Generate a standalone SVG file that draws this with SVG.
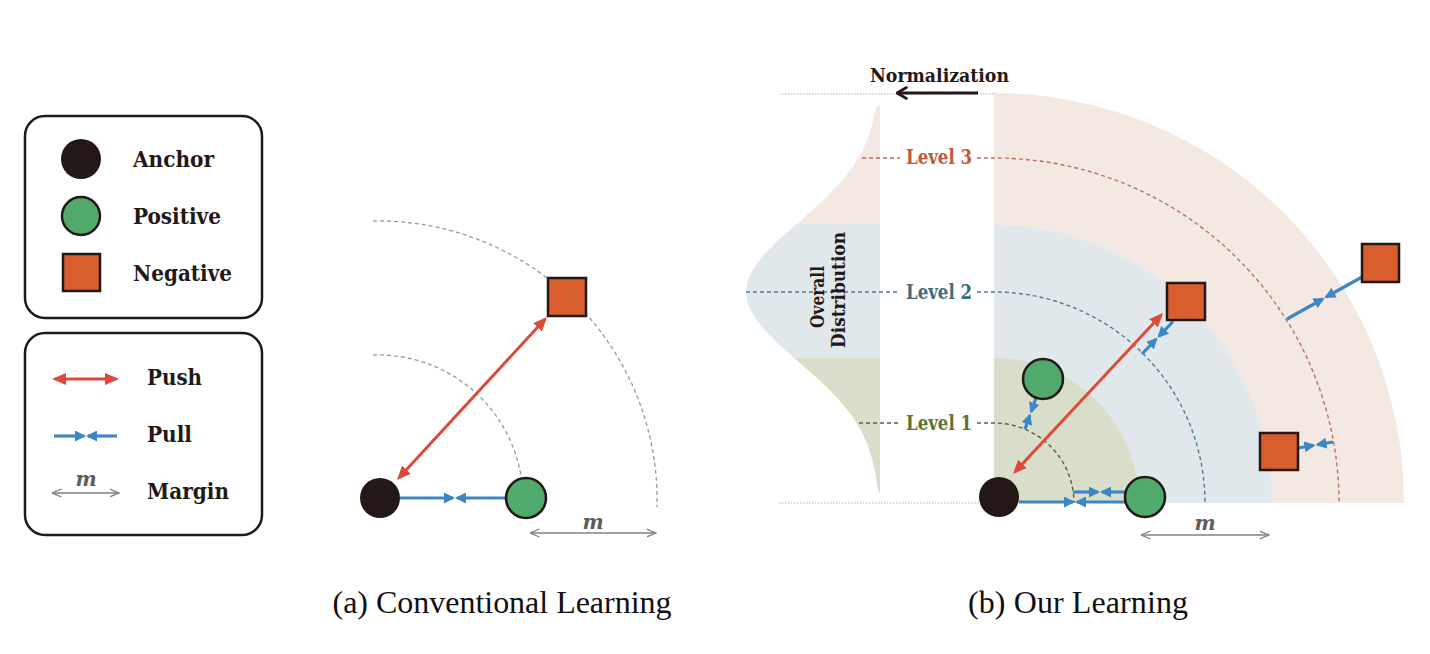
<svg xmlns="http://www.w3.org/2000/svg" width="1430" height="654" viewBox="0 0 1430 654">
<style>
.lbl{font-family:"DejaVu Serif Condensed","DejaVu Serif",serif;font-weight:bold;font-stretch:condensed;fill:#231815}
.cap{font-family:"Liberation Serif","Times New Roman",serif;font-size:32px;fill:#111}
.m{font-family:"DejaVu Serif",serif;font-style:italic;font-weight:bold;fill:#5e5e5e;text-anchor:middle;font-size:20px}
.anchor{fill:#231815}
.pos{fill:#4faa6b;stroke:#231815;stroke-width:2.5}
.neg{fill:#d95e2e;stroke:#231815;stroke-width:2.5}
.push{stroke:#db4a3a;stroke-width:3;fill:none;marker-start:url(#mPush);marker-end:url(#mPush)}
.pull{stroke:#3d88c4;stroke-width:3.2;fill:none;marker-end:url(#mPull)}
.margin{stroke:#808080;stroke-width:1.5;fill:none;marker-start:url(#mMar);marker-end:url(#mMar)}
.guide{fill:none;stroke:#9a9a9a;stroke-width:1.3;stroke-dasharray:4 3}
.box{fill:#fff;stroke:#231815;stroke-width:2.5}
.dot{stroke:#b5b5b5;stroke-width:1;stroke-dasharray:1.5 1.5}
.l3{fill:none;stroke:#b8735f;stroke-width:1.4;stroke-dasharray:4 3}
.l2{fill:none;stroke:#4e7c95;stroke-width:1.4;stroke-dasharray:4 3}
.l1{fill:none;stroke:#59603f;stroke-width:1.4;stroke-dasharray:4 3}
</style>
<defs>
<marker id="mPush" viewBox="0 0 14 12" refX="11" refY="6" markerWidth="14" markerHeight="12" markerUnits="userSpaceOnUse" orient="auto-start-reverse"><path d="M0,0 L14,6 L0,12 z" fill="#db4a3a"/></marker>
<marker id="mPull" viewBox="0 0 11 11" refX="9" refY="5.5" markerWidth="11" markerHeight="11" markerUnits="userSpaceOnUse" orient="auto"><path d="M0,0 L11,5.5 L0,11 z" fill="#3d88c4"/></marker>
<marker id="mMar" viewBox="0 0 10 10" refX="9.5" refY="5" markerWidth="10" markerHeight="10" markerUnits="userSpaceOnUse" orient="auto-start-reverse"><path d="M0,1 L9.5,5 L0,9" fill="none" stroke="#808080" stroke-width="1.3"/></marker>
<marker id="mNorm" viewBox="0 0 12 14" refX="10.5" refY="7" markerWidth="12" markerHeight="14" markerUnits="userSpaceOnUse" orient="auto"><path d="M1,1.5 L10.5,7 L1,12.5" fill="none" stroke="#231815" stroke-width="2.6" stroke-linecap="round" stroke-linejoin="round"/></marker>
<clipPath id="bell"><path d="M880,104 L876,107 L873,122 L868.5,137 L861.9,152 L852.8,167 L841,182 L826.7,197 L810.3,212 L792.9,227 L776.1,242 L761.8,257 L751.4,272 L747.3,282 L746,292 L747.3,302 L751.4,312 L761.8,327 L776.1,342 L792.9,357 L810.3,372 L826.7,387 L841,402 L852.8,417 L861.9,432 L868.5,447 L873,462 L875.9,477 L878,490 L880,493 Z"/></clipPath>
</defs>
<rect width="1430" height="654" fill="#fff"/>

<!-- Legend -->
<g id="legend-nodes">
<rect class="box" x="25" y="116" width="237" height="202" rx="20"/>
<g id="legend-anchor"><circle class="anchor" cx="81" cy="159" r="20"/><text class="lbl" x="133" y="167" font-size="23" textLength="81" lengthAdjust="spacingAndGlyphs">Anchor</text></g>
<g id="legend-positive"><circle class="pos" cx="81" cy="216" r="19"/><text class="lbl" x="133" y="224" font-size="23" textLength="88" lengthAdjust="spacingAndGlyphs">Positive</text></g>
<g id="legend-negative"><rect class="neg" x="63" y="254" width="37" height="37"/><text class="lbl" x="133" y="281" font-size="23" textLength="99" lengthAdjust="spacingAndGlyphs">Negative</text></g>
</g>
<g id="legend-edges">
<rect class="box" x="25" y="333" width="237" height="202" rx="20"/>
<g id="legend-push"><line class="push" x1="55" y1="379" x2="116" y2="379"/><text class="lbl" x="147" y="385" font-size="23" textLength="55" lengthAdjust="spacingAndGlyphs">Push</text></g>
<g id="legend-pull"><line class="pull" x1="54" y1="436" x2="84" y2="436"/><line class="pull" x1="117" y1="436" x2="88" y2="436"/><text class="lbl" x="147" y="442" font-size="23" textLength="45" lengthAdjust="spacingAndGlyphs">Pull</text></g>
<g id="legend-margin"><line class="margin" x1="52" y1="493" x2="119" y2="493"/><text class="m" x="86" y="486" font-size="19">m</text><text class="lbl" x="147" y="499" font-size="23" textLength="82" lengthAdjust="spacingAndGlyphs">Margin</text></g>
</g>

<!-- Panel (a) guides -->
<g id="a-guides">
<path class="guide" d="M373,355 A145,145 0 0 1 523,500"/>
<path class="guide" d="M373,221 A279,279 0 0 1 657,507"/>
</g>

<!-- Panel (b) background -->
<g id="b-background">
<path d="M994,503 L994,93 A410,410 0 0 1 1404,503 Z" fill="#f4e8e2"/>
<path d="M994,503 L994,225 A278,278 0 0 1 1272,503 Z" fill="#e1e8ec"/>
<path d="M994,503 L994,358 A145,145 0 0 1 1139,503 Z" fill="#d9decb"/>
<g clip-path="url(#bell)">
<rect x="740" y="90" width="141" height="134" fill="#f4e8e2"/>
<rect x="740" y="224" width="141" height="134" fill="#e1e8ec"/>
<rect x="740" y="358" width="141" height="140" fill="#d9decb"/>
</g>
<line class="dot" x1="779" y1="94" x2="994" y2="94"/>
<line class="dot" x1="779" y1="503" x2="994" y2="503"/>
</g>

<g id="b-levels">
<path class="l3" d="M862,158 L900,158"/>
<path class="l3" d="M977,158 L994,158 A345,345 0 0 1 1339,503"/>
<path class="l2" d="M746,292 L900,292"/>
<path class="l2" d="M977,292 L994,292 A211,211 0 0 1 1205,503"/>
<path class="l1" d="M859,423 L900,423"/>
<path class="l1" d="M977,423 L994,423 A80,80 0 0 1 1074,503"/>
<text class="lbl" x="906" y="164" font-size="20" style="fill:#c0583e" textLength="66" lengthAdjust="spacingAndGlyphs">Level 3</text>
<text class="lbl" x="906" y="298.5" font-size="20" style="fill:#3f6b80" textLength="66" lengthAdjust="spacingAndGlyphs">Level 2</text>
<text class="lbl" x="906" y="430" font-size="20" style="fill:#5f7232" textLength="66" lengthAdjust="spacingAndGlyphs">Level 1</text>
<text class="lbl" font-size="18" text-anchor="middle" transform="translate(824,297) rotate(-90)" textLength="62" lengthAdjust="spacingAndGlyphs">Overall</text>
<text class="lbl" font-size="18" text-anchor="middle" transform="translate(845,290) rotate(-90)" textLength="116" lengthAdjust="spacingAndGlyphs">Distribution</text>
</g>

<g id="b-normalization">
<line x1="978" y1="93" x2="897" y2="93" stroke="#231815" stroke-width="3" marker-end="url(#mNorm)"/>
<text class="lbl" x="870" y="82" font-size="19" textLength="139" lengthAdjust="spacingAndGlyphs">Normalization</text>
</g>

<!-- Connectors -->
<g id="connectors">
<line class="push" x1="399" y1="477.8" x2="545" y2="319.2"/>
<line class="pull" x1="400" y1="498" x2="453" y2="498"/>
<line class="pull" x1="506" y1="498" x2="457" y2="498"/>
<line class="margin" x1="530" y1="533" x2="656" y2="533"/>

<line class="push" x1="1015" y1="471.8" x2="1161" y2="315.2"/>
<line class="pull" x1="1019" y1="502" x2="1073" y2="502"/>
<line class="pull" x1="1125" y1="502" x2="1077" y2="502"/>
<line class="pull" x1="1073" y1="492" x2="1098" y2="492"/>
<line class="pull" x1="1126" y1="492" x2="1102" y2="492"/>
<line class="pull" x1="1025" y1="429" x2="1029.8" y2="415.4"/>
<line class="pull" x1="1036" y1="398" x2="1031.2" y2="411.6"/>
<line class="pull" x1="1142" y1="354" x2="1156.1" y2="339.2"/>
<line class="pull" x1="1173" y1="321.5" x2="1158.9" y2="336.4"/>
<line class="pull" x1="1287" y1="319" x2="1322.8" y2="299"/>
<line class="pull" x1="1362" y1="277" x2="1326.2" y2="297"/>
<line class="pull" x1="1333" y1="442" x2="1317.5" y2="444.7"/>
<line class="pull" x1="1298" y1="448" x2="1313.5" y2="445.3"/>
<line class="margin" x1="1141" y1="535" x2="1269" y2="535"/>
</g>
<text class="m" x="593" y="529">m</text>
<text class="m" x="1205" y="530">m</text>

<!-- Panel (a) nodes -->
<g id="a-anchor"><circle class="anchor" cx="380" cy="498" r="20"/></g>
<g id="a-positive"><circle class="pos" cx="526" cy="498" r="20"/></g>
<g id="a-negative"><rect class="neg" x="548" y="278" width="38" height="38"/></g>

<!-- Panel (b) nodes -->
<g id="b-anchor"><circle class="anchor" cx="999" cy="497" r="20"/></g>
<g id="b-positive-1"><circle class="pos" cx="1145" cy="497" r="20"/></g>
<g id="b-positive-2"><circle class="pos" cx="1043" cy="379" r="20"/></g>
<g id="b-negative-1"><rect class="neg" x="1167" y="283" width="38" height="37"/></g>
<g id="b-negative-2"><rect class="neg" x="1362" y="244" width="37" height="38"/></g>
<g id="b-negative-3"><rect class="neg" x="1260" y="433" width="38" height="37"/></g>

<text class="cap" x="502" y="613" text-anchor="middle" textLength="339">(a) Conventional Learning</text>
<text class="cap" x="1078" y="613" text-anchor="middle" textLength="220">(b) Our Learning</text>
</svg>
